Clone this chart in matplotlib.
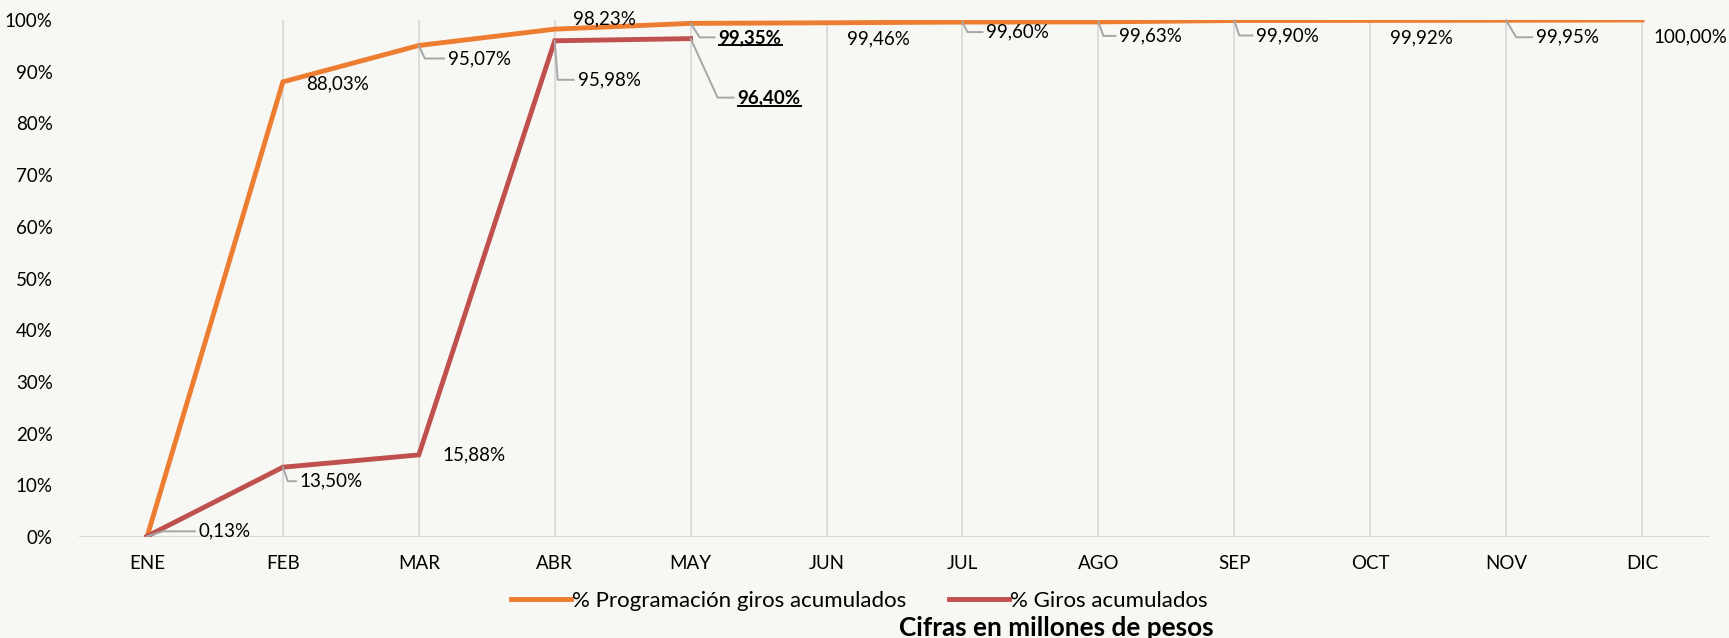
import matplotlib
matplotlib.use("Agg")
from matplotlib import pyplot as plt
from matplotlib.lines import Line2D

meses = ["ENE", "FEB", "MAR", "ABR", "MAY", "JUN", "JUL", "AGO", "SEP", "OCT", "NOV", "DIC"]
programacion = [0.0, 88.03, 95.07, 98.23, 99.35, 99.46, 99.60, 99.63, 99.90, 99.92, 99.95, 100.00]
giros = [0.13, 13.50, 15.88, 95.98, 96.40]

# label placement per point: (dx px, dy px, leader elbow dx or None, highlighted?)
prog_labels = [None, (23, -2, None, False), (29, -13, 6, False), (18, 10, None, False),
               (28, -14, 9, True), (20, -16, None, False), (24, -10, 5, False),
               (21, -14, 5, False), (22, -15, 5, False), (20, -17, None, False),
               (30, -17, 10, False), (11, -17, None, False)]
giros_labels = [(52, 5, 16, False), (17, -14, 5, False), (24, 0, None, False),
                (23, -39, 3, False), (47, -59, 27, True)]

BG = "#f7f8f3"
ORANGE = "#ed7d31"
RED = "#c0504d"
LEADER = "#a6a6a6"
FS = 13.5

plt.rcParams["font.family"] = ["Lato", "DejaVu Sans"]

fig = plt.figure(figsize=(17.29, 6.38), dpi=100, facecolor=BG)
ax = fig.add_axes([79 / 1729, 1 - 537 / 638, (1710 - 79) / 1729, (537 - 20) / 638])
ax.set_facecolor(BG)

x = list(range(len(meses)))
ax.vlines(x[1:], 0, 100, color="#d9d9d9", lw=1.3, zorder=1)
ax.axhline(0, color="#d9d9d9", lw=1.5, zorder=1)

ax.plot(x, programacion, color=ORANGE, lw=3.5, solid_joinstyle="miter", zorder=3,
        label="% Programación giros acumulados")
ax.plot(x[:len(giros)], giros, color=RED, lw=3.5, solid_joinstyle="miter", zorder=4,
        label="% Giros acumulados")

ax.set_xlim(-0.5, len(meses) - 0.5)
ax.set_ylim(0, 100)
ax.set_yticks(range(0, 101, 10))
ax.set_yticklabels([f"{v}%" for v in range(0, 101, 10)])
ax.set_xticks(x)
ax.set_xticklabels(meses)
ax.tick_params(length=0, labelsize=13.5, colors="#000000")
ax.tick_params(axis="y", pad=19)
ax.tick_params(axis="x", pad=13)
for s in ax.spines.values():
    s.set_visible(False)

highlighted = []
leaders = []


def fmt(v):
    return f"{v:.2f}%".replace(".", ",")


def add_labels(values, specs):
    for i, (v, spec) in enumerate(zip(values, specs)):
        if spec is None:
            continue
        dx, dy, elbow, hl = spec
        t = ax.annotate(fmt(v), xy=(i, v), xytext=(dx, dy), textcoords="offset pixels",
                        ha="left", va="center", fontsize=FS,
                        fontweight="bold" if hl else "normal",
                        zorder=5, annotation_clip=False)
        if hl:
            highlighted.append(t)
        if elbow is not None:
            leaders.append((i, v, dx, dy, elbow))


add_labels(programacion, prog_labels)
add_labels(giros, giros_labels)

leg = fig.legend(loc="center", bbox_to_anchor=(0.497, 1 - 601 / 638), ncol=2, frameon=False,
                 fontsize=16, handlelength=2.7, handletextpad=0.05, columnspacing=1.9)
for h in leg.get_lines():
    h.set_linewidth(3.5)
fig.text(0.611, 1 - 628 / 638, "Cifras en millones de pesos", ha="center", va="center",
         fontsize=18.8, fontweight="bold")

fig.canvas.draw()
r = fig.canvas.get_renderer()
W, H = fig.bbox.width, fig.bbox.height

# leader lines: point -> elbow -> just before the text
for i, v, dx, dy, elbow in leaders:
    px, py = ax.transData.transform((i, v))
    xs = [px, px + elbow, px + dx - 4]
    ys = [py, py + dy, py + dy]
    fig.add_artist(Line2D([a / W for a in xs], [b / H for b in ys],
                          transform=fig.transFigure, color=LEADER, lw=1.4, zorder=2))

# underline the highlighted labels
for t in highlighted:
    bb = matplotlib.text.Text.get_window_extent(t, r)
    fig.add_artist(Line2D([bb.x0 / W, bb.x1 / W], [(bb.y0 + 0.5) / H] * 2,
                          transform=fig.transFigure, color="black", lw=1.4))

fig.savefig("out.png", dpi=100, facecolor=BG)
